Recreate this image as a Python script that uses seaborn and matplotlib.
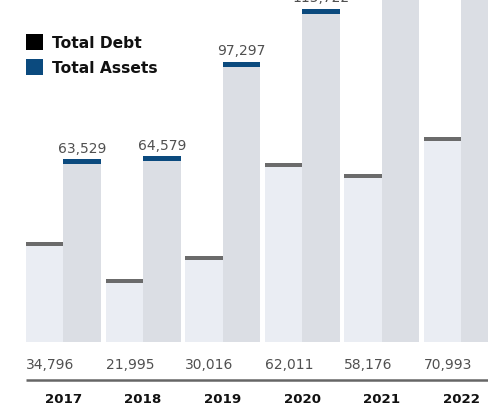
import matplotlib
matplotlib.use("Agg")
import matplotlib.pyplot as plt
from matplotlib.patches import Rectangle
from matplotlib.transforms import blended_transform_factory
import seaborn as sns
import pandas as pd

# Figures in the report (thousands)
years = ["2017", "2018", "2019", "2020", "2021", "2022"]
total_debt = [34796, 21995, 30016, 62011, 58176, 70993]
total_assets = [63529, 64579, 97297, 115722, 142310, 156840]
series_names = ["Total Debt", "Total Assets"]

fill_colors = {"Total Debt": "#e9ecf4", "Total Assets": "#d9dde6"}
cap_colors = {"Total Debt": "#6b6b6b", "Total Assets": "#0b4a7e"}
legend_colors = {"Total Debt": "#000000", "Total Assets": "#0b4a7e"}
label_color = "#505050"

df = pd.DataFrame({
    "year": years * 2,
    "value": total_debt + total_assets,
    "series": [series_names[0]] * len(years) + [series_names[1]] * len(years),
})

sns.set_theme(style="white")
plt.rcParams["font.family"] = ["DejaVu Sans"]

W, H = 488, 410
fig = plt.figure(figsize=(W / 100, H / 100), dpi=100)
ax = fig.add_axes([0, 0, 1, 1])

group_w = 0.942
sns.barplot(data=df, x="year", y="value", hue="series", order=years,
            hue_order=series_names, palette=fill_colors, width=group_w,
            gap=0, dodge=True, errorbar=None, legend=False,
            edgecolor="none", linewidth=0, ax=ax)

# pixel geometry -> data limits
px_per_unit_x = 79.6
left_px = 26
k = 0.002881            # pixels per value unit
base_px = 343           # baseline row in pixels from the top
x0 = -group_w / 2 - left_px / px_per_unit_x
ax.set_xlim(x0, x0 + W / px_per_unit_x)
ax.set_ylim(-(H - base_px) / k, base_px / k)
ax.set_axis_off()

# coloured caps on top of each bar
cap_px = {"Total Debt": 4, "Total Assets": 5}
for name, cont in zip(series_names, ax.containers):
    for bar in cont:
        h = bar.get_height()
        th = cap_px[name] / k
        ax.add_patch(Rectangle((bar.get_x(), h - th), bar.get_width(), th,
                               facecolor=cap_colors[name], edgecolor="none",
                               zorder=3))

ytr = blended_transform_factory(ax.transData, ax.transAxes)

def frac(py):
    return 1 - py / H

# asset values above the asset bars
for bar, v in zip(ax.containers[1], total_assets):
    ax.annotate(f"{v:,}", (bar.get_x() + bar.get_width() / 2, bar.get_height()),
                xytext=(0, 5.3), textcoords="offset points", ha="center",
                va="baseline", fontsize=10, color=label_color,
                clip_on=False)

# debt values under the bars, left aligned
for bar, v in zip(ax.containers[0], total_debt):
    ax.text(bar.get_x(), frac(365), f"{v:,}", transform=ytr, ha="left",
            va="center", fontsize=10, color=label_color)

# baseline rule
ax.plot([-group_w / 2, x0 + W / px_per_unit_x], [frac(381)] * 2,
        transform=ytr, color="#666666", lw=1.8, solid_capstyle="butt",
        clip_on=False)

# year labels
for i, y in enumerate(years):
    ax.text(i, frac(400), y, transform=ytr, ha="center", va="center",
            fontsize=9.6, fontweight="bold", color="#111111")

# legend
for (name, top) in zip(series_names, [35, 60]):
    fig.add_artist(Rectangle((26 / W, 1 - (top + 16) / H), 17 / W, 16 / H,
                             transform=fig.transFigure,
                             facecolor=legend_colors[name], edgecolor="none"))
    fig.text(52 / W, 1 - (top + 8.5) / H, name, ha="left", va="center",
             fontsize=11.2, fontweight="bold", color="#111111")

fig.savefig("out.png", dpi=100)
